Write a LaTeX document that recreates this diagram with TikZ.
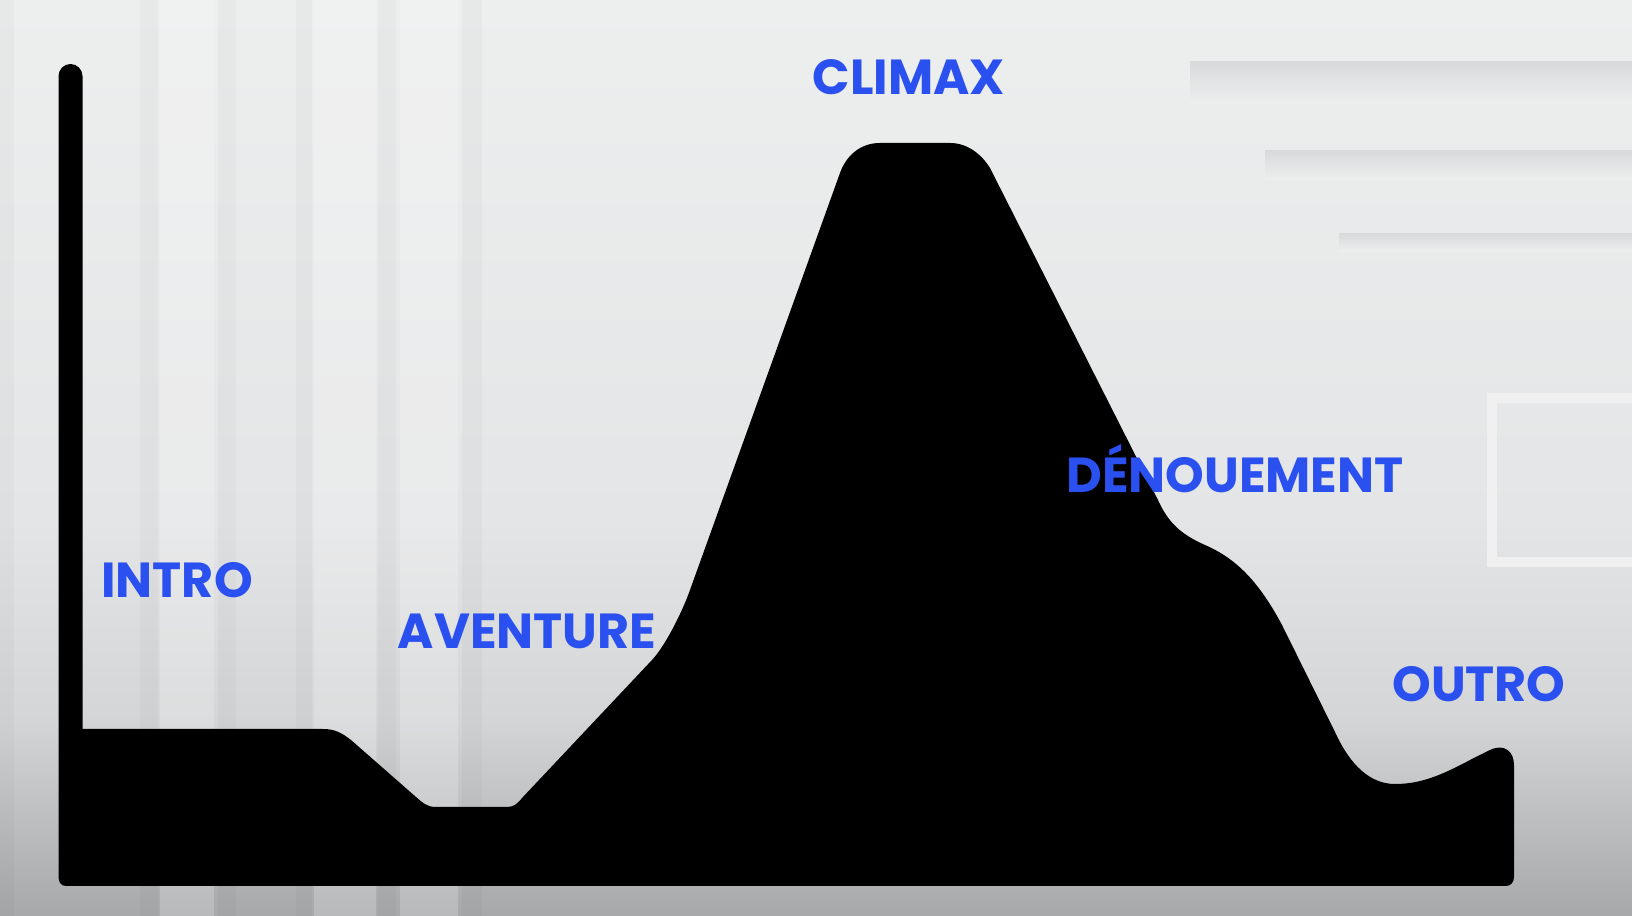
\documentclass[tikz,border=0pt]{standalone}
\usepackage{fontspec}
\usepackage{xcolor}
\usepackage{tikz}
\newfontfamily\stagefont{Poppins}
\definecolor{stageblue}{HTML}{2B50F0}
\definecolor{bgtop}{HTML}{EDEEEE}
\definecolor{bgmid}{HTML}{E4E5E6}
\definecolor{bglow}{HTML}{D3D5D6}
\definecolor{bgfloor}{HTML}{A6A8AA}
\definecolor{bgshade}{HTML}{D9DADB}
\tikzset{
  stage/.style   ={font=\stagefont\bfseries\fontsize{14}{14}\selectfont,
                   text=stageblue, inner sep=0pt, anchor=base},
  storyarc/.style={fill=black},
  stripe/.style  ={fill=black, opacity=0.025},
  glint/.style   ={fill=white, opacity=0.2},
  ledge/.style   ={top color=bgshade, bottom color=bgtop}
}

\begin{document}
\begin{tikzpicture}[x=0.01cm, y=-0.01cm]
  \useasboundingbox (0,0) rectangle (1632,916);
  % backdrop
  \fill[top color=bgtop, bottom color=bgmid]   (0,0)   rectangle (1632,522);
  \fill[top color=bgmid, bottom color=bglow]   (0,520) rectangle (1632,722);
  \fill[top color=bglow, bottom color=bgfloor] (0,720) rectangle (1632,916);
  \foreach \xa/\xb in {0/14, 140/158, 218/236, 296/312, 378/396, 462/482}
    \fill[stripe] (\xa,0) rectangle (\xb,916);
  \foreach \xa/\xb in {160/214, 314/376, 400/458}
    \fill[glint] (\xa,0) rectangle (\xb,916);
  \fill[ledge] (1190,62)  rectangle (1632,104);
  \fill[ledge] (1265,151) rectangle (1632,180);
  \fill[ledge] (1339,234) rectangle (1632,252);
  \draw[black!6, line width=3pt] (1632,398) -- (1492,398) -- (1492,562) -- (1632,562);

  % story arc
  \fill[storyarc] (58.5,877) -- (58.5,76)
    .. controls (58.5,69.4) and (63.9,64) .. (70.5,64)
    .. controls (77.1,64) and (82.5,69.4) .. (82.5,76)
    -- (82.5,729) -- (323,729)
    .. controls (335,729) and (342,733) .. (351,740)
    -- (416,797)
    .. controls (423,803) and (427,807) .. (436,807)
    -- (507,807)
    .. controls (514,807) and (517,804) .. (523,797)
    -- (652,660)
    .. controls (666,645) and (683,610) .. (690,590)
    -- (840,173)
    .. controls (846,156) and (860,143) .. (880,143)
    -- (950,143)
    .. controls (968,143) and (982,155) .. (990,168)
    -- (1158,500)
    .. controls (1168,522) and (1180,534) .. (1205,545)
    .. controls (1235,558) and (1258,580) .. (1282,625)
    -- (1335,732)
    .. controls (1350,765) and (1370,784) .. (1395,784)
    .. controls (1420,784) and (1440,776) .. (1470,760)
    -- (1490,750)
    .. controls (1505,743) and (1514,752) .. (1514,765)
    -- (1514,877)
    .. controls (1514,882) and (1511,886) .. (1506,886)
    -- (66,886)
    .. controls (61,886) and (58.5,882) .. (58.5,877)
    -- cycle;

  % stage labels
  \node[stage] (intro)      at (177,598)  {INTRO};
  \node[stage] (aventure)   at (527,649)  {AVENTURE};
  \node[stage] (climax)     at (909,95)   {CLIMAX};
  \node[stage] (denouement) at (1235,493) {DÉNOUEMENT};
  \node[stage] (outro)      at (1479,702) {OUTRO};
\end{tikzpicture}
\end{document}
